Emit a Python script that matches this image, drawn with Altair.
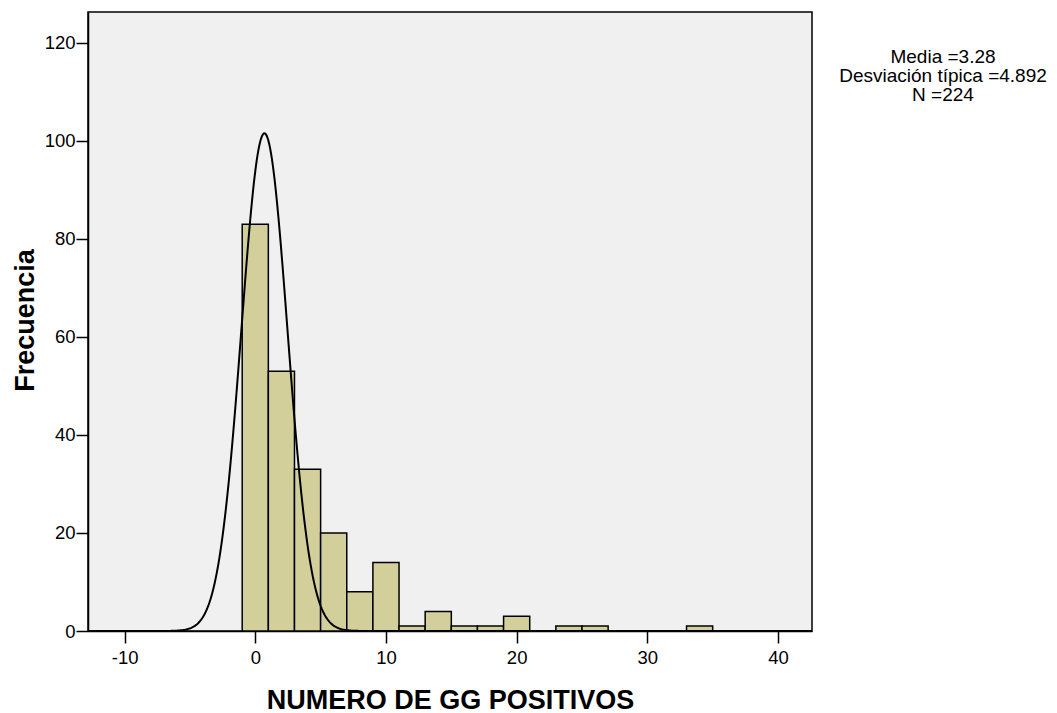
import altair as alt
import numpy as np
import pandas as pd

# Histogram bins (left edge) and their frequencies
bin_start = [-1, 1, 3, 5, 7, 9, 11, 13, 15, 17, 19, 23, 25, 33]
frequencies = [83, 53, 33, 20, 8, 14, 1, 4, 1, 1, 3, 1, 1, 1]
bin_width = 2

# Normal curve overlay parameters
curve_mean = 0.7
curve_sd = 1.76
n_cases = 224

stats_lines = ["Media =3.28", "Desviación típica =4.892", "N =224"]
x_ticks = [-10, 0, 10, 20, 30, 40]
y_ticks = [0, 20, 40, 60, 80, 100, 120]

x_domain = [-12.8, 42.6]
y_domain = [0, 126.3]

FONT = "Liberation Sans"

bars_df = pd.DataFrame({
    "start": bin_start,
    "end": [b + bin_width for b in bin_start],
    "count": frequencies,
})

xs = np.linspace(x_domain[0], x_domain[1], 800)
ys = n_cases * bin_width * np.exp(-0.5 * ((xs - curve_mean) / curve_sd) ** 2) / (curve_sd * np.sqrt(2 * np.pi))
curve_df = pd.DataFrame({"start": xs, "count": ys})

x_scale = alt.Scale(domain=x_domain, nice=False, zero=False)
y_scale = alt.Scale(domain=y_domain, nice=False)

# Plain hyphen for negative tick labels
x_axis = alt.Axis(values=x_ticks, title="NUMERO DE GG POSITIVOS",
                  labelExpr="datum.value + ''",
                  titleY=77, titleBaseline="alphabetic", labelPadding=5.5)
y_axis = alt.Axis(values=y_ticks, title="Frecuencia",
                  titleX=-55, titleY=308, titleBaseline="alphabetic",
                  titleAlign="center", labelPadding=1)

bars = alt.Chart(bars_df).mark_rect(
    fill="#D3CF9B", stroke="black", strokeWidth=1.5
).encode(
    x=alt.X("start:Q", scale=x_scale, axis=x_axis),
    x2="end:Q",
    y=alt.Y("count:Q", scale=y_scale, axis=y_axis),
    y2=alt.datum(0),
)

curve = alt.Chart(curve_df).mark_line(
    color="black", strokeWidth=2, clip=True
).encode(
    x=alt.X("start:Q", scale=x_scale, axis=x_axis),
    y=alt.Y("count:Q", scale=y_scale, axis=y_axis),
)

# Summary statistics printed beside the plot
line_y = [51, 70, 89]
texts = [
    alt.Chart(alt.Data(values=[{"t": s}])).mark_text(
        font=FONT, fontSize=19, color="black", align="center", baseline="alphabetic"
    ).encode(text="t:N", x=alt.value(855), y=alt.value(py))
    for s, py in zip(stats_lines, line_y)
]

chart = alt.layer(bars, curve, *texts).properties(
    width=724,
    height=619,
    autosize=alt.AutoSizeParams(type="none"),
    padding={"left": 88, "top": 12, "right": 245, "bottom": 82},
    background="white",
).configure_view(
    fill="#F0F0F0", stroke="black", strokeWidth=1.5
).configure_axis(
    grid=False,
    domainColor="black", domainWidth=1.5,
    tickColor="black", tickWidth=1.5, tickSize=12,
    labelFont=FONT, labelFontSize=18.5, labelColor="black",
    titleFont=FONT, titleFontSize=27, titleFontWeight="bold", titleColor="black",
)

chart.save("out.html", embed_options={"renderer": "svg", "actions": False})
